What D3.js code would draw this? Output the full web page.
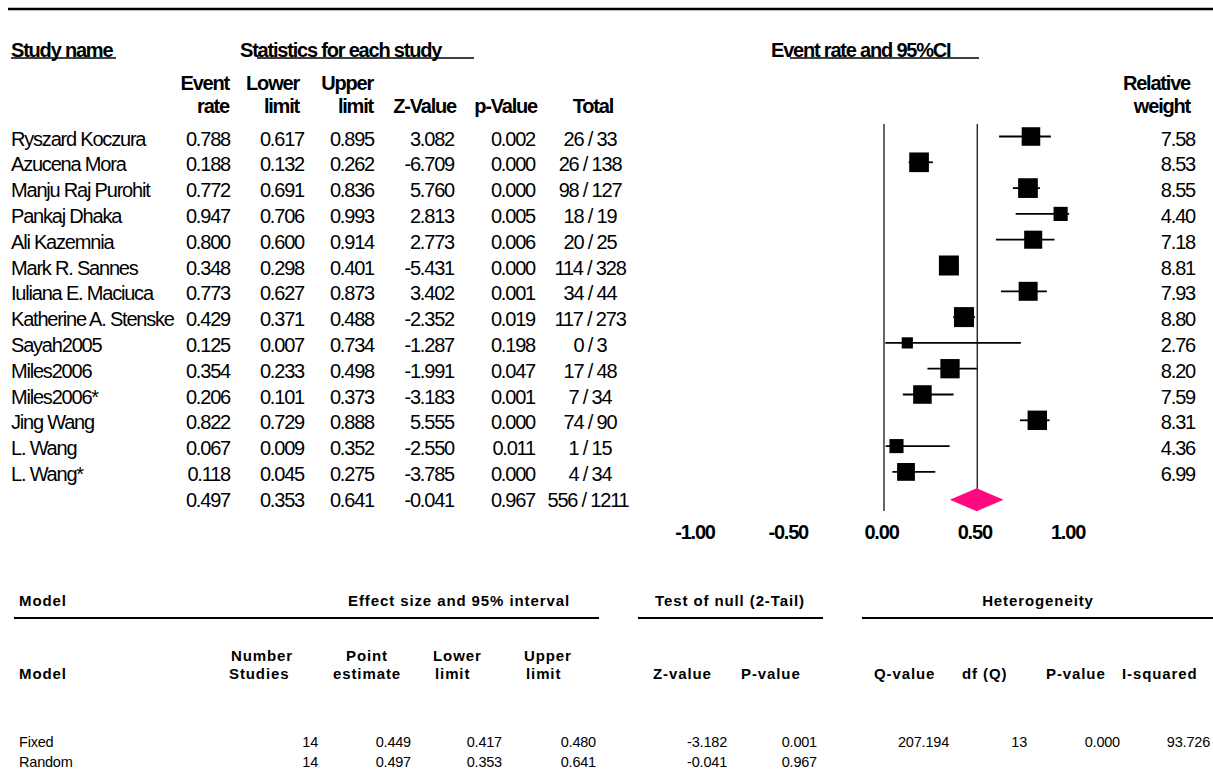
<!DOCTYPE html>
<html><head><meta charset="utf-8">
<script src="https://cdn.jsdelivr.net/npm/d3@7"></script>
<style>
html,body{margin:0;padding:0;background:#fff;}
svg text{font-family:"Liberation Sans",Arial,sans-serif;fill:#000;}
.row{font-size:20px;letter-spacing:-1.2px;}
.hdr{font-size:20px;font-weight:bold;letter-spacing:-1.2px;}
.bt{font-size:15px;font-weight:bold;letter-spacing:0.9px;}
.bv{font-size:14.5px;letter-spacing:-0.2px;}
</style></head>
<body>
<svg id="chart" width="1213" height="775"></svg>
<script>
// ---------- data ----------
const studies = ["Ryszard Koczura","Azucena Mora","Manju Raj Purohit","Pankaj Dhaka","Ali Kazemnia","Mark R. Sannes","Iuliana E. Maciuca","Katherine A. Stenske","Sayah2005","Miles2006","Miles2006*","Jing Wang","L. Wang","L. Wang*"];
const eventRate = [0.788,0.188,0.772,0.947,0.800,0.348,0.773,0.429,0.125,0.354,0.206,0.822,0.067,0.118];
const lowerLimit = [0.617,0.132,0.691,0.706,0.600,0.298,0.627,0.371,0.007,0.233,0.101,0.729,0.009,0.045];
const upperLimit = [0.895,0.262,0.836,0.993,0.914,0.401,0.873,0.488,0.734,0.498,0.373,0.888,0.352,0.275];
const zValue = [3.082,-6.709,5.760,2.813,2.773,-5.431,3.402,-2.352,-1.287,-1.991,-3.183,5.555,-2.550,-3.785];
const pValue = [0.002,0.000,0.000,0.005,0.006,0.000,0.001,0.019,0.198,0.047,0.001,0.000,0.011,0.000];
const totals = ["26 / 33","26 / 138","98 / 127","18 / 19","20 / 25","114 / 328","34 / 44","117 / 273","0 / 3","17 / 48","7 / 34","74 / 90","1 / 15","4 / 34"];
const weights = [7.58,8.53,8.55,4.40,7.18,8.81,7.93,8.80,2.76,8.20,7.59,8.31,4.36,6.99];
const summaryStats = [0.497,0.353,0.641,-0.041,0.967];
const summaryTotal = "556 / 1211";
const axisTicks = [-1.00,-0.50,0.00,0.50,1.00];

const modelNames = ["Fixed","Random"];
const modelStudies = [14,14];
const modelPoint = [0.449,0.497];
const modelLower = [0.417,0.353];
const modelUpper = [0.480,0.641];
const modelZ = [-3.182,-0.041];
const modelP = [0.001,0.967];
const hetQ = ["207.194",""];
const hetDf = ["13",""];
const hetP = ["0.000",""];
const hetI2 = ["93.726",""];

// ---------- layout ----------
const svg = d3.select("#chart");
const f3 = d3.format(".3f");
const fm = v => f3(v).replace("−","-");
const f2 = v => d3.format(".2f")(v).replace("−","-");

const x = d3.scaleLinear().domain([-1,1]).range([697.5,1070.5]);
const y = d3.scaleLinear().domain([0,14]).range([138.5,499.7]);
const size = d3.scaleSqrt().domain([0,10]).range([0,21.3]);

// top rule
svg.append("line").attr("x1",8).attr("x2",1213).attr("y1",9).attr("y2",9)
  .attr("stroke","#000").attr("stroke-width",2.5);

// section headers
const hdrY = 50 + 7;
svg.append("text").attr("class","hdr").attr("x",11).attr("y",hdrY).text("Study name");
svg.append("text").attr("class","hdr").attr("x",240).attr("y",hdrY).text("Statistics for each study");
svg.append("text").attr("class","hdr").attr("x",771).attr("y",hdrY).text("Event rate and 95%CI");
[[11,116],[257,474],[790,979]].forEach(([a,b])=>{
  svg.append("line").attr("x1",a).attr("x2",b).attr("y1",58).attr("y2",58)
    .attr("stroke","#000").attr("stroke-width",1.3);
});

// column headers (right aligned)
const colHeaders = [
  {x:229, l1:"Event", l2:"rate"},
  {x:299, l1:"Lower", l2:"limit"},
  {x:373, l1:"Upper", l2:"limit"},
  {x:456, l1:"", l2:"Z-Value"},
  {x:537, l1:"", l2:"p-Value"},
  {x:613, l1:"", l2:"Total"},
  {x:1190, l1:"Relative", l2:"weight"}
];
colHeaders.forEach(c=>{
  if(c.l1) svg.append("text").attr("class","hdr").attr("x",c.x).attr("y",83+7).attr("text-anchor","end").text(c.l1);
  svg.append("text").attr("class","hdr").attr("x",c.x).attr("y",106+7).attr("text-anchor","end").text(c.l2);
});

// study rows
const rows = svg.append("g");
studies.forEach((s,i)=>{
  const yy = y(i)+7;
  rows.append("text").attr("class","row").attr("x",11).attr("y",yy).text(s);
  rows.append("text").attr("class","row").attr("x",230).attr("y",yy).attr("text-anchor","end").text(fm(eventRate[i]));
  rows.append("text").attr("class","row").attr("x",304).attr("y",yy).attr("text-anchor","end").text(fm(lowerLimit[i]));
  rows.append("text").attr("class","row").attr("x",374).attr("y",yy).attr("text-anchor","end").text(fm(upperLimit[i]));
  rows.append("text").attr("class","row").attr("x",454).attr("y",yy).attr("text-anchor","end").text(fm(zValue[i]));
  rows.append("text").attr("class","row").attr("x",535).attr("y",yy).attr("text-anchor","end").text(fm(pValue[i]));
  rows.append("text").attr("class","row").attr("x",590).attr("y",yy).attr("text-anchor","middle").text(totals[i]);
  rows.append("text").attr("class","row").attr("x",1195).attr("y",yy).attr("text-anchor","end").text(weights[i].toFixed(2));
});
// summary row
{
  const yy = y(14)+7;
  const xs = [230,304,374,454,535];
  summaryStats.forEach((v,k)=>{
    rows.append("text").attr("class","row").attr("x",xs[k]).attr("y",yy).attr("text-anchor","end").text(fm(v));
  });
  rows.append("text").attr("class","row").attr("x",588).attr("y",yy).attr("text-anchor","middle").text(summaryTotal);
}

// forest plot reference lines
[0,0.5].forEach(v=>{
  svg.append("line").attr("x1",x(v)).attr("x2",x(v)).attr("y1",124).attr("y2",511)
    .attr("stroke","#000").attr("stroke-width",1.2);
});
// CIs and squares
const plot = svg.append("g");
studies.forEach((s,i)=>{
  plot.append("line").attr("x1",x(lowerLimit[i])).attr("x2",x(upperLimit[i]))
    .attr("y1",y(i)-2).attr("y2",y(i)-2).attr("stroke","#000").attr("stroke-width",1.8);
  const w = size(weights[i]);
  plot.append("rect").attr("x",x(eventRate[i])-w/2).attr("y",y(i)-2-w/2)
    .attr("width",w).attr("height",w).attr("fill","#000");
});
// summary diamond
{
  const cy = y(14);
  const pts = [[x(summaryStats[1]),cy],[x(summaryStats[0]),cy-11.5],[x(summaryStats[2]),cy],[x(summaryStats[0]),cy+11.5]];
  plot.append("polygon").attr("points",pts.map(p=>p.join(",")).join(" ")).attr("fill","#ff0a7f");
}
// axis
const axis = d3.axisBottom(x).tickValues(axisTicks).tickFormat(f2).tickSize(0).tickPadding(0);
const ag = svg.append("g").attr("transform","translate(-3,525)").call(axis);
ag.select(".domain").remove();
ag.selectAll("text").attr("class","hdr").style("font-size","20px").attr("fill","#000");

// ---------- bottom table ----------
const bt = svg.append("g");
function T(cls,xp,yp,txt,anchor){
  bt.append("text").attr("class",cls).attr("x",xp).attr("y",yp).attr("text-anchor",anchor||"start").text(txt);
}
T("bt",19,606,"Model");
T("bt",459,606,"Effect size and 95% interval","middle");
T("bt",730,606,"Test of null (2-Tail)","middle");
T("bt",1038,606,"Heterogeneity","middle");
[[14,599],[638,823],[862,1213]].forEach(([a,b])=>{
  bt.append("line").attr("x1",a).attr("x2",b).attr("y1",618).attr("y2",618).attr("stroke","#000").attr("stroke-width",2);
});
T("bt",19,679,"Model");
T("bt",231,661,"Number"); T("bt",229,679,"Studies");
T("bt",367,661,"Point","middle"); T("bt",367,679,"estimate","middle");
T("bt",433,661,"Lower"); T("bt",435,679,"limit");
T("bt",524,661,"Upper"); T("bt",526,679,"limit");
T("bt",653,679,"Z-value");
T("bt",741,679,"P-value");
T("bt",874,679,"Q-value");
T("bt",962,679,"df (Q)");
T("bt",1046,679,"P-value");
T("bt",1122,679,"I-squared");

modelNames.forEach((m,i)=>{
  const yy = 747 + i*20;
  T("bv",19,yy,m);
  T("bv",318,yy,String(modelStudies[i]),"end");
  T("bv",411,yy,fm(modelPoint[i]),"end");
  T("bv",502,yy,fm(modelLower[i]),"end");
  T("bv",596,yy,fm(modelUpper[i]),"end");
  T("bv",727,yy,fm(modelZ[i]),"end");
  T("bv",817,yy,fm(modelP[i]),"end");
  T("bv",949,yy,hetQ[i],"end");
  T("bv",1027,yy,hetDf[i],"end");
  T("bv",1120,yy,hetP[i],"end");
  T("bv",1210,yy,hetI2[i],"end");
});
</script>
</body></html>
